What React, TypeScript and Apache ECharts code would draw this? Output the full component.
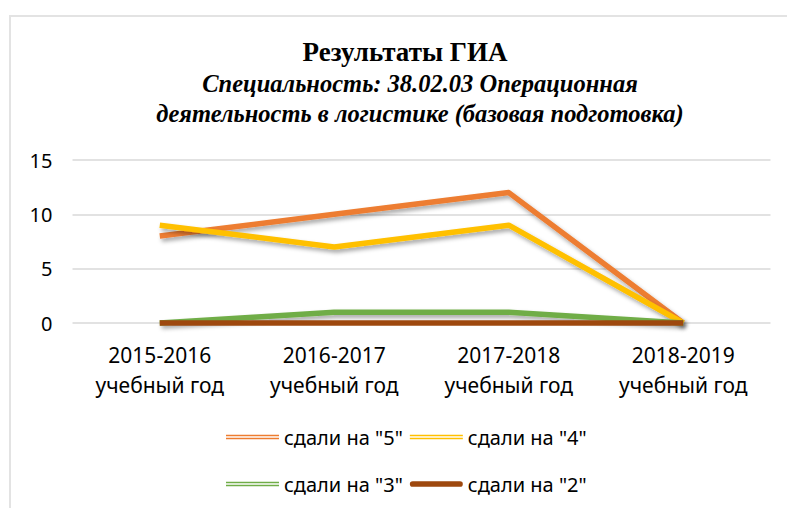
import React, { useEffect, useRef } from "react";
import * as echarts from "echarts";

const categories = [
  "2015-2016\nучебный год",
  "2016-2017\nучебный год",
  "2017-2018\nучебный год",
  "2018-2019\nучебный год",
];
const seriesNames = ['сдали на "5"', 'сдали на "4"', 'сдали на "3"', 'сдали на "2"'];
const grade5 = [8, 10, 12, 0];
const grade4 = [9, 7, 9, 0];
const grade3 = [0, 1, 1, 0];
const grade2 = [0, 0, 0, 0];
const yTicks = { min: 0, max: 15, interval: 5 };
const colors = ["#ED7D31", "#FFC000", "#70AD47", "#9E480E"];
const titleText = "Результаты ГИА";
const subtitleLines = [
  "Специальность: 38.02.03 Операционная",
  "деятельность в логистике (базовая подготовка)",
];

const doubleLine = "path://M0,0H56V1.6H0Z M0,3.4H56V5H0Z";
const thickLine = "path://M3,0H53A3,3 0 0 1 53,6H3A3,3 0 0 1 3,0Z";
const serifFont = "'Liberation Serif', 'Times New Roman', serif";

export default function App() {
  const ref = useRef<HTMLDivElement>(null);
  useEffect(() => {
    document.body.style.margin = "0";
    const chart = echarts.init(ref.current!, null, { renderer: "svg" });
    const values = [grade5, grade4, grade3, grade2];
    const legendText = { fontFamily: "Noto Sans", fontSize: 20, color: "#000" };
    chart.setOption({
      animation: false,
      backgroundColor: "#fff",
      color: colors,
      graphic: [
        {
          type: "rect",
          shape: { x: 10, y: 16, width: 800, height: 520 },
          style: { fill: "none", stroke: "#e3e3e3", lineWidth: 2 },
          silent: true,
          z: -1,
        },
        {
          type: "text",
          x: 405,
          y: 52,
          style: {
            text: titleText,
            align: "center",
            verticalAlign: "middle",
            font: "bold 27px " + serifFont,
            fill: "#000",
          },
        },
        {
          type: "text",
          x: 420,
          y: 83,
          style: {
            text: subtitleLines[0],
            align: "center",
            verticalAlign: "middle",
            font: "italic bold 24.5px " + serifFont,
            fill: "#000",
          },
        },
        {
          type: "text",
          x: 420,
          y: 113,
          style: {
            text: subtitleLines[1],
            align: "center",
            verticalAlign: "middle",
            font: "italic bold 24.5px " + serifFont,
            fill: "#000",
          },
        },
      ],
      legend: [
        {
          data: [
            { name: seriesNames[0], icon: doubleLine },
            { name: seriesNames[1], icon: doubleLine },
          ],
          left: 221,
          top: 422,
          itemWidth: 53,
          itemHeight: 5,
          itemGap: 7,
          textStyle: legendText,
        },
        {
          data: [
            { name: seriesNames[2], icon: doubleLine },
            { name: seriesNames[3], icon: thickLine },
          ],
          left: 221,
          top: 469,
          itemWidth: 53,
          itemHeight: 7,
          itemGap: 7,
          textStyle: legendText,
        },
      ],
      grid: { left: 72.5, right: 16.5, top: 160, bottom: 185, containLabel: false },
      xAxis: {
        type: "category",
        data: categories,
        boundaryGap: true,
        axisLine: { show: false },
        axisTick: { show: false },
        axisLabel: {
          fontFamily: "Noto Sans",
          fontSize: 21,
          lineHeight: 30,
          color: "#000",
          margin: 17,
          interval: 0,
        },
      },
      yAxis: {
        type: "value",
        min: yTicks.min,
        max: yTicks.max,
        interval: yTicks.interval,
        axisLine: { show: false },
        axisTick: { show: false },
        axisLabel: {
          fontFamily: "Noto Sans",
          fontSize: 20,
          color: "#000",
          margin: 20,
        },
        splitLine: { lineStyle: { color: "#d9d9d9", width: 1.5 } },
      },
      series: seriesNames.map((name, i) => ({
        name,
        type: "line",
        data: values[i],
        symbol: "none",
        showSymbol: false,
        clip: false,
        z: 2 + i,
        lineStyle: {
          width: 5.5,
          color: colors[i],
          shadowColor: i === 3 ? "transparent" : "rgba(0,0,0,0.35)",
          shadowBlur: i === 3 ? 0 : 4,
          shadowOffsetX: i === 3 ? 0 : 2,
          shadowOffsetY: i === 3 ? 0 : 3,
          join: "round",
        },
        itemStyle: { color: colors[i] },
      })),
    });
    return () => chart.dispose();
  }, []);
  return (
    <div
      ref={ref}
      style={{ position: "absolute", left: 0, top: 0, width: 787, height: 508 }}
    />
  );
}
